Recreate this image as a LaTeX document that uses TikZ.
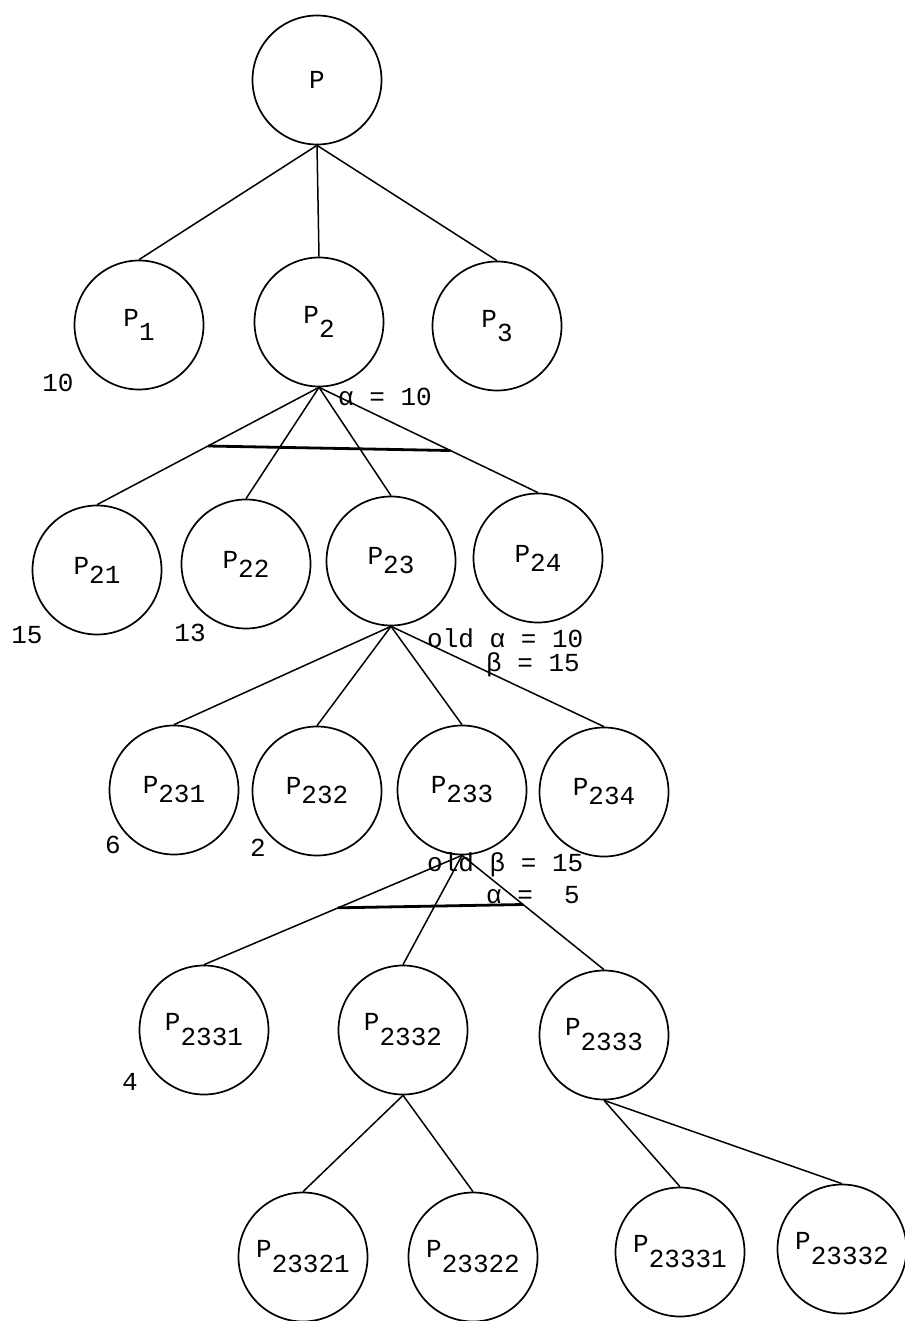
\documentclass[tikz,border=0pt]{standalone}
\usepackage{fontspec}
\newfontfamily\typer{Liberation Mono}
\usetikzlibrary{calc}
\newcommand{\pn}[2][9pt]{P\raisebox{-#1}{#2}}

\begin{document}
\begin{tikzpicture}[x=1pt,y=-1pt,
  pnode/.style={draw,circle,line width=1.7pt,minimum size=129pt,inner sep=0pt,font=\typer\fontsize{26}{30}\selectfont},
  edge/.style={line width=1.5pt},
  cut/.style={line width=2.8pt},
  val/.style={inner sep=0pt,font=\typer\fontsize{26}{30}\selectfont}]
  \useasboundingbox (0,0) rectangle (904,1321);
  % the tree
  \node[pnode] (P) at (317,80) {P};
  \node[pnode] (P1) at (139,325) {\pn[14pt]{1}}; \node[pnode] (P2) at (319,322) {\pn[14pt]{2}}; \node[pnode] (P3) at (497,326) {\pn[14pt]{3}};
  \node[pnode] (P21) at (97,570) {\pn{21}}; \node[pnode] (P22) at (246,564) {\pn{22}};
  \node[pnode] (P23) at (391,561) {\pn{23}}; \node[pnode] (P24) at (538,558) {\pn{24}};
  \node[pnode] (P231) at (174,790) {\pn{231}}; \node[pnode] (P232) at (317,791) {\pn{232}};
  \node[pnode] (P233) at (462,790) {\pn{233}}; \node[pnode] (P234) at (604,792) {\pn{234}};
  \node[pnode] (P2331) at (204,1030) {\pn[15pt]{2331}}; \node[pnode] (P2332) at (403,1030) {\pn[15pt]{2332}};
  \node[pnode] (P2333) at (604,1035) {\pn[15pt]{2333}};
  \node[pnode] (P23321) at (303,1257) {\pn[15pt]{23321}}; \node[pnode] (P23322) at (473,1257) {\pn[15pt]{23322}};
  \node[pnode] (P23331) at (680,1252) {\pn[15pt]{23331}}; \node[pnode] (P23332) at (842,1249) {\pn[15pt]{23332}};
  % branches
  \foreach \c in {P1,P2,P3} \draw[edge] (P.south) -- (\c.north);
  \foreach \c in {P21,P22,P23,P24} \draw[edge] (P2.south) -- (\c.north);
  \foreach \c in {P231,P232,P233,P234} \draw[edge] (P23.south) -- (\c.north);
  \foreach \c in {P2331,P2332,P2333} \draw[edge] (P233.south) -- (\c.north);
  \foreach \c in {P23321,P23322} \draw[edge] (P2332.south) -- (\c.north);
  \foreach \c in {P23331,P23332} \draw[edge] (P2333.south) -- (\c.north);
  % cut-offs
  \draw[cut] ($(P2.south)!0.5!(P21.north)$) -- ($(P2.south)!0.6!(P24.north)$);
  \draw[cut] ($(P233.south)!0.48!(P2331.north)$) -- ($(P233.south)!0.43!(P2333.north)$);
  % values
  \node[val] (v1) at (58,383) {10};
  \node[val] (v21) at (27,635) {15}; \node[val] (v22) at (190,633) {13};
  \node[val] (v231) at (113,845) {6}; \node[val] (v232) at (258,848) {2};
  \node[val] (v2331) at (130,1082) {4};
  \node[val,anchor=west] (a2) at (338,397) {α = 10};
  \node[val,anchor=west] (a23) at (427,638) {old α = 10};
  \node[val,anchor=east] (b23) at (580,665) {β = 15};
  \node[val,anchor=west] (b233) at (427,865) {old β = 15};
  \node[val,anchor=east] (a233) at (580,895) {α =\ \ 5};
\end{tikzpicture}
\end{document}
